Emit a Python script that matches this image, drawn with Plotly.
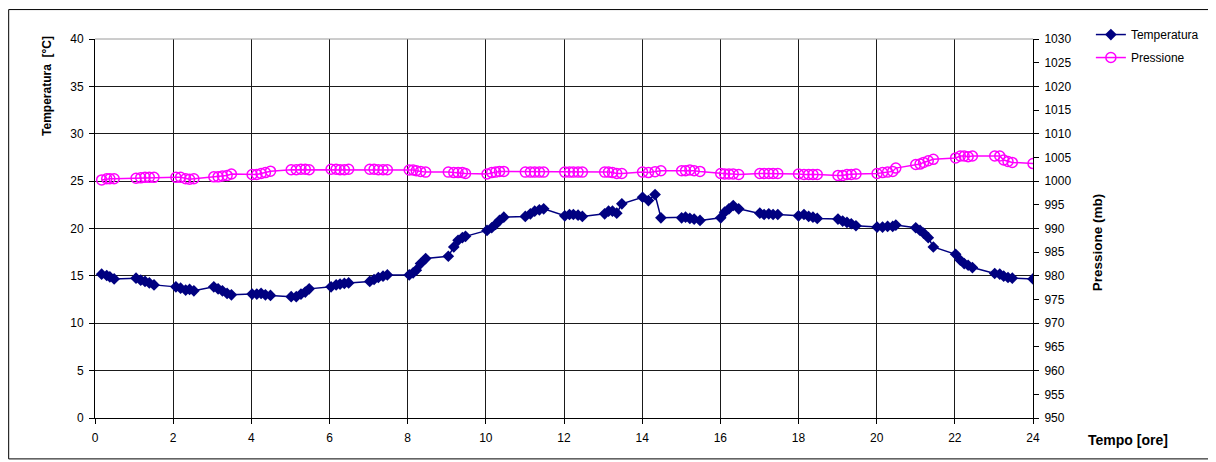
import plotly.graph_objects as go

# --- data ---
ore = [0.17, 0.30, 0.38, 0.49,
       1.05, 1.17, 1.28, 1.39, 1.51,
       2.07, 2.19, 2.32, 2.42, 2.53,
       3.04, 3.15, 3.26, 3.38, 3.49,
       4.02, 4.14, 4.25, 4.36, 4.49,
       5.02, 5.15, 5.27, 5.38, 5.48,
       6.04, 6.17, 6.27, 6.38, 6.49,
       7.03, 7.14, 7.25, 7.37, 7.48,
       8.04, 8.14, 8.22, 8.33, 8.46,
       9.04, 9.18, 9.29, 9.40, 9.48,
       10.03, 10.15, 10.25, 10.35, 10.46,
       11.01, 11.14, 11.25, 11.37, 11.48,
       12.02, 12.14, 12.24, 12.36, 12.47,
       13.04, 13.14, 13.24, 13.35, 13.48,
       14.01, 14.16, 14.33, 14.48,
       15.01, 15.11, 15.22, 15.33, 15.48,
       16.01, 16.11, 16.22, 16.33, 16.47,
       17.01, 17.12, 17.24, 17.35, 17.47,
       18.00, 18.14, 18.26, 18.37, 18.48,
       19.01, 19.13, 19.24, 19.35, 19.47,
       20.01, 20.15, 20.28, 20.41, 20.49,
       21.00, 21.11, 21.20, 21.32, 21.45,
       22.02, 22.14, 22.24, 22.34, 22.45,
       23.02, 23.15, 23.25, 23.36, 23.47,
       24.00]

temperatura = [15.18, 15.04, 14.90, 14.68,
               14.76, 14.55, 14.41, 14.26, 14.05,
               13.84, 13.70, 13.50, 13.57, 13.42,
               13.84, 13.63, 13.42, 13.15, 13.00,
               13.08, 13.08, 13.15, 13.00, 12.94,
               12.80, 12.80, 13.08, 13.29, 13.63,
               13.84, 14.05, 14.13, 14.20, 14.26,
               14.41, 14.62, 14.83, 14.97, 15.10,
               15.10, 15.32, 15.60, 16.30, 16.83,
               17.07, 18.05, 18.75, 19.03, 19.17,
               19.80, 20.08, 20.43, 20.85, 21.20,
               21.27, 21.55, 21.83, 21.97, 22.08,
               21.34, 21.48, 21.48, 21.41, 21.27,
               21.55, 21.83, 21.83, 21.62, 22.60,
               23.30, 22.95, 23.58, 21.13,
               21.13, 21.20, 21.06, 20.99, 20.85,
               21.13, 21.72, 22.08, 22.43, 22.08,
               21.62, 21.48, 21.55, 21.48, 21.48,
               21.34, 21.48, 21.27, 21.20, 21.06,
               20.99, 20.78, 20.64, 20.50, 20.29,
               20.15, 20.15, 20.22, 20.22, 20.36,
               20.08, 19.80, 19.52, 19.03, 18.05,
               17.28, 16.65, 16.30, 16.12, 15.88,
               15.25, 15.18, 14.97, 14.83, 14.76,
               14.68]

pressione = [1000.25, 1000.5, 1000.5, 1000.5,
             1000.6, 1000.7, 1000.8, 1000.8, 1000.8,
             1000.8, 1000.8, 1000.5, 1000.4, 1000.5,
             1000.9, 1000.9, 1001.1, 1001.2, 1001.5,
             1001.4, 1001.4, 1001.6, 1001.8, 1002.1,
             1002.4, 1002.4, 1002.5, 1002.5, 1002.4,
             1002.5, 1002.5, 1002.4, 1002.4, 1002.5,
             1002.5, 1002.5, 1002.4, 1002.4, 1002.4,
             1002.35, 1002.35, 1002.2, 1002.05, 1001.9,
             1001.9, 1001.8, 1001.8, 1001.8, 1001.6,
             1001.5, 1001.8, 1001.9, 1002.05, 1002.05,
             1001.9, 1001.9, 1001.9, 1001.9, 1001.9,
             1001.9, 1001.9, 1001.9, 1001.9, 1001.9,
             1001.9, 1001.9, 1001.8, 1001.6, 1001.6,
             1001.9, 1001.8, 1002.0, 1002.2,
             1002.2, 1002.2, 1002.35, 1002.2, 1002.05,
             1001.6, 1001.5, 1001.5, 1001.5, 1001.4,
             1001.6, 1001.6, 1001.6, 1001.6, 1001.6,
             1001.5, 1001.4, 1001.4, 1001.4, 1001.4,
             1001.2, 1001.2, 1001.4, 1001.4, 1001.5,
             1001.6, 1001.8, 1001.9, 1002.05, 1002.75,
             1003.5, 1003.6, 1003.95, 1004.3, 1004.6,
             1004.9, 1005.3, 1005.3, 1005.15, 1005.3,
             1005.3, 1005.3, 1004.45, 1004.15, 1003.95,
             1003.7]

x_ticks = list(range(0, 25, 2))
t_ticks = list(range(0, 41, 5))
p_ticks = list(range(950, 1031, 5))

FONT = "Liberation Sans, Arial, sans-serif"

fig = go.Figure()
fig.add_trace(go.Scatter(
    x=ore, y=temperatura, name="Temperatura", mode="lines+markers",
    legendgroup="t",
    line=dict(color="#000080", width=1.5),
    marker=dict(symbol="diamond", size=9, color="#000080"),
    yaxis="y"))
fig.add_trace(go.Scatter(
    x=ore, y=pressione, name="Pressione", mode="lines+markers",
    legendgroup="p",
    line=dict(color="#FF00FF", width=1.5),
    marker=dict(symbol="circle-open", size=10, color="#FF00FF",
                line=dict(width=1.5, color="#FF00FF")),
    yaxis="y2"))

# page is offset by the 8px body margin; work in page pixels
OFF = 8
L, R, T, B = 95 - OFF, 1035 - OFF, 38 - OFF, 418 - OFF
W, H = 1216 - OFF, 462 - OFF
def px(x):
    return (x - OFF - L) / (R - L)
def py(y):
    return (B - (y - OFF)) / (B - T)

fig.update_layout(
    width=W, height=H,
    margin=dict(l=L, r=W - R, t=T, b=H - B, pad=0),
    paper_bgcolor="white", plot_bgcolor="white",
    font=dict(family=FONT, size=12, color="#000000"),
    showlegend=True,
    legend=dict(x=px(1093), y=py(19), xanchor="left", yanchor="top",
                bgcolor="rgba(0,0,0,0)", font=dict(size=12, family=FONT),
                itemwidth=30, tracegroupgap=4),
    xaxis=dict(range=[0, 24], tickvals=x_ticks, ticktext=[str(v) for v in x_ticks],
               showgrid=True, gridcolor="#1a1a1a", gridwidth=1,
               showline=True, linecolor="#000000", linewidth=1,
               ticks="outside", ticklen=5, tickcolor="#000000",
               zeroline=False, tickfont=dict(size=12), ticklabelstandoff=4),
    yaxis=dict(range=[0, 40], tickvals=t_ticks, ticktext=[str(v) for v in t_ticks],
               showgrid=True, gridcolor="#1a1a1a", gridwidth=1,
               showline=True, linecolor="#000000", linewidth=1,
               ticks="outside", ticklen=5, tickcolor="#000000",
               zeroline=False, tickfont=dict(size=12), ticklabelstandoff=3),
    yaxis2=dict(range=[950, 1030], tickvals=p_ticks, ticktext=[str(v) for v in p_ticks],
                overlaying="y", side="right", showgrid=False,
                showline=True, linecolor="#000000", linewidth=1,
                ticks="outside", ticklen=5, tickcolor="#000000",
                zeroline=False, tickfont=dict(size=12), ticklabelstandoff=3),
    shapes=[
        # outer chart frame
        dict(type="rect", xref="paper", yref="paper",
             x0=px(8.5), x1=px(1211), y0=py(459), y1=py(8.5),
             line=dict(color="#000000", width=1), fillcolor="rgba(0,0,0,0)", layer="below"),
        # top edge of plot area
        dict(type="line", xref="paper", yref="paper",
             x0=0, x1=1, y0=1, y1=1, line=dict(color="#9a9a9a", width=1)),
    ],
    annotations=[
        dict(text="<b>Temperatura  [°C]</b>", xref="paper", yref="paper",
             x=px(47), y=py(85), textangle=-90, showarrow=False,
             font=dict(size=12, family=FONT), xanchor="center", yanchor="middle"),
        dict(text="<b>Pressione (mb)</b>", xref="paper", yref="paper",
             x=px(1100), y=py(242), textangle=-90, showarrow=False,
             font=dict(size=13.5, family=FONT), xanchor="center", yanchor="middle"),
        dict(text="<b>Tempo [ore]</b>", xref="paper", yref="paper",
             x=px(1088), y=py(440), showarrow=False,
             font=dict(size=14, family=FONT), xanchor="left", yanchor="middle"),
    ],
)

fig.write_html("out.html")
